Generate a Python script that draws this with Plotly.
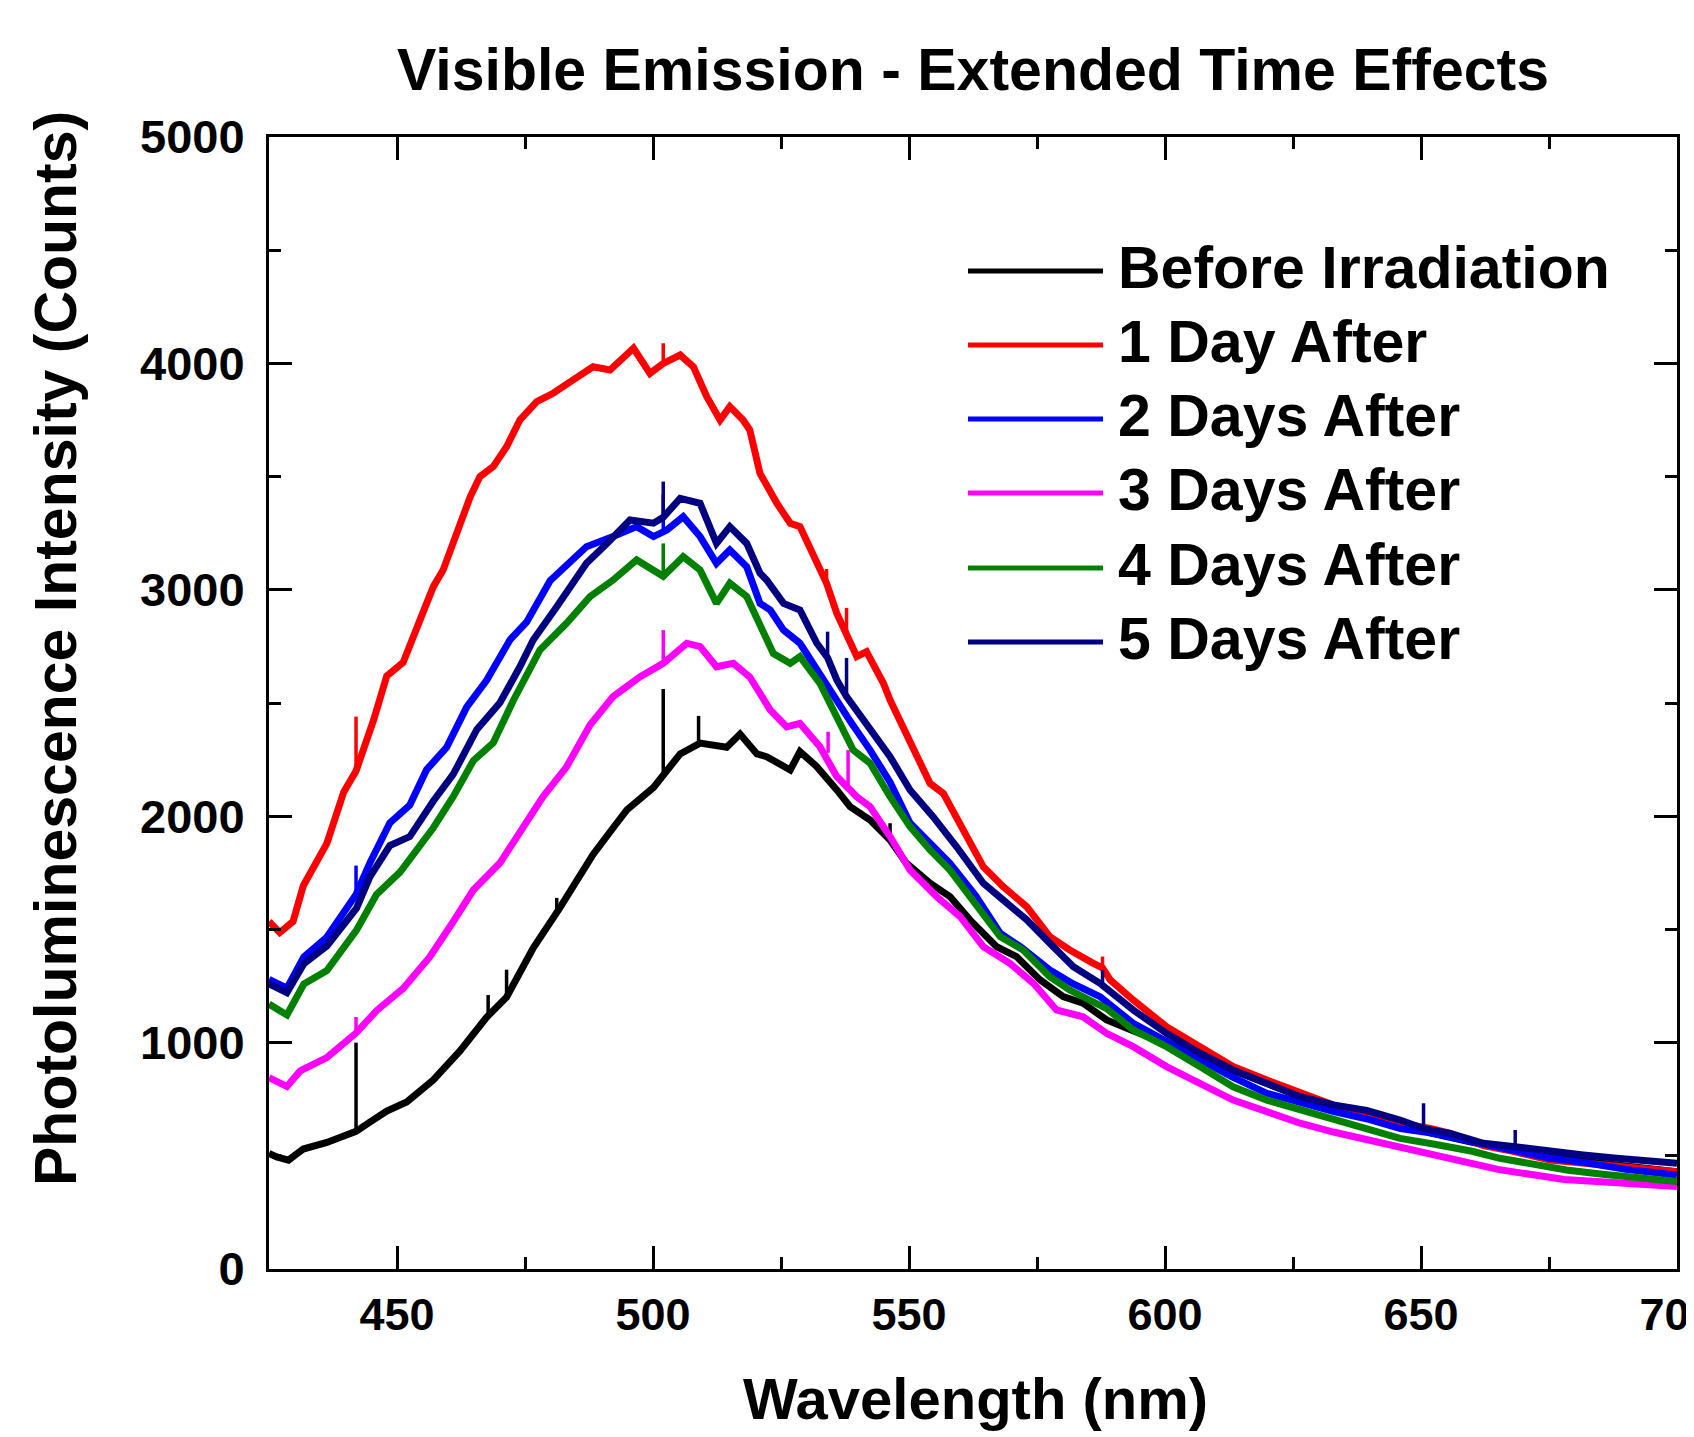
import plotly.graph_objects as go

# ---- data (wavelength nm, counts) ----
wl_before = [425.0, 426.5, 428.8, 431.7, 436.3, 440.0, 442.0, 444.7, 448.0, 451.9, 457.1, 462.3, 467.5,
             471.4, 476.6, 481.8, 488.3, 492.6, 494.9, 500.1, 502.0, 505.3, 509.2, 514.4, 517.0, 520.3,
             522.2, 526.8, 528.7, 532.0, 535.9, 538.5, 542.4, 546.3, 549.5, 554.1, 558.0, 561.9, 567.1,
             571.0, 575.6, 580.1, 584.0, 588.6, 594.0, 600.0, 606.0, 613.0, 620.0, 626.0, 633.0, 640.0,
             646.0, 652.0, 660.0, 668.0, 675.0, 682.0, 690.0, 700.0]
pl_before = [510, 495, 481, 530, 559, 590, 608, 649, 698, 738, 835, 963, 1112,
             1201, 1418, 1595, 1831, 1960, 2028, 2127, 2177, 2275, 2323, 2305, 2363, 2275,
             2263, 2204, 2285, 2219, 2116, 2042, 1983, 1895, 1792, 1704, 1645, 1542, 1424,
             1380, 1277, 1203, 1174, 1100, 1050, 1000, 950, 880, 815, 765, 715, 680,
             640, 600, 560, 525, 495, 475, 455, 430]
spikes_before = [(442.0, 608, 1000), (467.8, 1120, 1210), (471.4, 1201, 1322), (481.2, 1570, 1639),
                 (502.0, 2177, 2562), (508.9, 2320, 2443), (546.3, 1895, 1969)]

wl_day1 = [425.0, 427.1, 429.7, 431.7, 436.3, 439.6, 442.0, 445.4, 448.0, 451.2, 454.5, 457.1, 459.0,
           461.7, 464.3, 466.2, 468.8, 471.4, 474.0, 477.3, 480.5, 484.4, 488.3, 491.6, 496.2, 499.4,
           502.0, 505.3, 507.9, 510.5, 513.1, 515.0, 517.6, 518.9, 520.9, 524.2, 526.8, 528.7, 532.0,
           533.9, 535.9, 537.8, 539.8, 541.7, 545.0, 546.3, 550.2, 554.1, 556.7, 560.6, 564.5, 568.4,
           573.0, 577.5, 581.4, 586.0, 587.8, 589.3, 593.8, 600.3, 606.8, 613.3, 619.9, 626.4, 632.9,
           639.4, 645.9, 651.8, 655.7, 662.2, 668.0, 675.2, 681.7, 688.2, 694.7, 700.0]
pl_day1 = [1535, 1486, 1535, 1693, 1880, 2107, 2200, 2423, 2619, 2679, 2867, 3014, 3087,
           3249, 3411, 3500, 3544, 3632, 3750, 3831, 3868, 3927, 3985, 3971, 4067, 3956,
           4000, 4037, 3985, 3853, 3750, 3809, 3750, 3706, 3514, 3382, 3294, 3279, 3117,
           3029, 2896, 2800, 2705, 2727, 2587, 2513, 2337, 2145, 2101, 1939, 1777, 1689,
           1600, 1468, 1409, 1350, 1330, 1277, 1188, 1070, 982, 894, 835, 776, 724,
           688, 644, 621, 599, 545, 520, 481, 466, 452, 440, 430]
spikes_day1 = [(442.0, 2200, 2440), (502.0, 4000, 4089), (533.9, 3029, 3092), (537.8, 2800, 2920),
               (587.8, 1330, 1380)]

wl_day2 = [425.0, 428.5, 431.8, 436.3, 442.0, 444.7, 448.6, 452.5, 455.8, 459.7, 463.6, 467.5, 472.1,
           475.3, 479.9, 487.0, 492.2, 496.8, 500.1, 502.7, 505.9, 509.2, 512.4, 515.0, 518.3, 520.9,
           522.9, 525.5, 528.7, 532.0, 535.2, 538.5, 542.4, 546.3, 550.2, 554.1, 558.0, 563.0, 567.8,
           572.0, 577.5, 582.0, 587.3, 593.8, 600.0, 606.8, 613.0, 619.9, 626.4, 633.0, 640.0, 646.0,
           652.4, 660.0, 668.0, 675.0, 682.0, 690.0, 700.0]
pl_day2 = [1279, 1240, 1378, 1466, 1654, 1793, 1970, 2049, 2206, 2304, 2482, 2600, 2780,
           2857, 3040, 3190, 3235, 3279, 3235, 3264, 3323, 3235, 3117, 3176, 3102, 2940,
           2911, 2822, 2764, 2646, 2528, 2420, 2292, 2150, 1970, 1880, 1792, 1650, 1483,
           1420, 1321, 1260, 1203, 1085, 1010, 924, 850, 776, 735, 695, 660, 620,
           599, 560, 520, 490, 470, 440, 415]
spikes_day2 = [(442.0, 1654, 1782), (502.0, 3250, 3420)]

wl_day3 = [425.0, 428.5, 431.1, 436.3, 442.0, 446.0, 451.2, 456.4, 461.0, 464.9, 470.1, 474.0, 478.6,
           483.1, 487.7, 492.2, 497.5, 502.0, 506.6, 509.2, 512.4, 515.7, 518.9, 522.9, 526.1, 528.7,
           532.6, 535.9, 539.8, 542.4, 546.3, 550.2, 555.4, 560.0, 564.5, 569.7, 574.3, 578.8, 584.0,
           588.6, 593.8, 600.3, 606.8, 613.3, 619.9, 626.4, 632.9, 639.4, 645.9, 652.4, 665.0, 678.0,
           691.0, 700.0]
pl_day3 = [845, 806, 875, 934, 1042, 1141, 1239, 1378, 1535, 1674, 1793, 1930, 2089,
           2217, 2403, 2528, 2616, 2675, 2764, 2749, 2660, 2675, 2615, 2469, 2395, 2410,
           2307, 2175, 2086, 2042, 1910, 1762, 1645, 1556, 1424, 1350, 1262, 1144, 1114,
           1041, 982, 894, 820, 746, 695, 644, 605, 573, 540, 508, 440, 395,
           378, 364]
spikes_day3 = [(442.0, 1042, 1113), (502.0, 2675, 2822), (534.2, 2280, 2373), (538.1, 2120, 2292)]

wl_day4 = [425.0, 428.5, 431.8, 436.3, 442.1, 446.0, 450.6, 453.8, 457.1, 461.0, 464.9, 468.8, 472.7,
           477.9, 483.1, 487.7, 492.2, 496.8, 500.1, 502.0, 505.9, 509.2, 512.4, 515.0, 518.3, 520.9,
           523.5, 526.8, 528.7, 532.6, 535.9, 539.1, 542.4, 546.3, 550.2, 554.1, 558.0, 563.2, 567.8,
           572.3, 577.5, 581.4, 588.6, 593.8, 600.3, 606.8, 613.3, 619.9, 626.4, 632.9, 639.4, 645.9,
           652.4, 660.0, 665.4, 672.0, 678.4, 685.0, 691.4, 700.0]
pl_day4 = [1170, 1122, 1259, 1318, 1497, 1654, 1753, 1851, 1949, 2087, 2245, 2324, 2510,
           2734, 2852, 2970, 3043, 3132, 3087, 3060, 3146, 3087, 2940, 3029, 2970, 2852,
           2719, 2675, 2705, 2587, 2440, 2292, 2234, 2086, 1954, 1851, 1762, 1600, 1468,
           1409, 1291, 1232, 1150, 1056, 982, 894, 805, 746, 702, 658, 620, 577,
           552, 520, 489, 460, 437, 420, 408, 386]
spikes_day4 = [(502.0, 3060, 3205)]

wl_day5 = [425.0, 428.5, 431.8, 436.3, 442.1, 444.7, 448.6, 452.5, 457.1, 461.0, 465.6, 470.1, 474.0,
           476.6, 481.2, 487.0, 491.0, 495.5, 500.1, 502.0, 505.3, 509.2, 512.4, 515.0, 518.3, 520.9,
           522.2, 525.5, 528.7, 532.0, 534.1, 535.9, 537.8, 541.7, 546.3, 550.2, 554.7, 559.3, 564.5,
           568.4, 573.0, 577.5, 582.1, 587.3, 593.8, 600.3, 606.8, 613.3, 619.9, 626.4, 632.9, 639.4,
           645.9, 650.5, 655.7, 662.2, 668.4, 675.2, 681.7, 688.2, 694.7, 700.0]
pl_day5 = [1259, 1220, 1348, 1427, 1594, 1732, 1870, 1910, 2067, 2186, 2383, 2501, 2660,
           2778, 2925, 3117, 3205, 3308, 3294, 3320, 3404, 3382, 3205, 3279, 3205, 3073,
           3043, 2940, 2911, 2764, 2700, 2602, 2528, 2410, 2263, 2116, 1998, 1865, 1704,
           1630, 1542, 1439, 1335, 1262, 1144, 1041, 953, 879, 820, 761, 725, 700,
           658, 620, 599, 555, 540, 518, 504, 489, 481, 467]
spikes_day5 = [(502.0, 3320, 3478), (534.1, 2700, 2815), (537.8, 2528, 2699), (587.8, 1255, 1320),
               (650.5, 620, 732), (668.4, 540, 614)]

series_names = ["Before Irradiation", "1 Day After", "2 Days After",
                "3 Days After", "4 Days After", "5 Days After"]
series_colors = ["#000000", "#ff0000", "#0000ff", "#ff00ff", "#008000", "#000080"]
series_x = [wl_before, wl_day1, wl_day2, wl_day3, wl_day4, wl_day5]
series_y = [pl_before, pl_day1, pl_day2, pl_day3, pl_day4, pl_day5]
series_spikes = [spikes_before, spikes_day1, spikes_day2, spikes_day3, spikes_day4, spikes_day5]

x_ticks = [450, 500, 550, 600, 650, 700]
y_ticks = [0, 1000, 2000, 3000, 4000, 5000]

# ---- page geometry (pixels on the page; the html body adds an 8px margin) ----
W, H = 1694, 1437
PAGE_OFF = 8
L, R, T, B = 269, 1677, 137, 1269
FONT = "Liberation Sans, Arial, sans-serif"


def px_x(px):
    return (px - L) / (R - L)


def px_y(py):
    return (B - py) / (B - T)


fig = go.Figure()
for name, color, xs, ys, sp in zip(series_names, series_colors, series_x, series_y, series_spikes):
    fig.add_trace(go.Scatter(x=xs, y=ys, mode="lines", name=name,
                             line=dict(color=color, width=7), showlegend=False))
    # narrow spectral spikes: thin vertical strokes on top of the curve
    sx_list, sy_list = [], []
    for sx, base, peak in sp:
        sx_list += [sx, sx, None]
        sy_list += [base, peak, None]
    fig.add_trace(go.Scatter(x=sx_list, y=sy_list, mode="lines", name=name + " spikes",
                             line=dict(color=color, width=3.5), showlegend=False, connectgaps=False))

axis_common = dict(
    showline=True, linecolor="black", linewidth=3, mirror="allticks",
    ticks="inside", ticklen=23, tickwidth=3, tickcolor="black",
    showgrid=False, zeroline=False, ticklabeloverflow="allow",
)

fig.update_xaxes(range=[425, 700], tickvals=x_ticks, ticklabelstandoff=4,
                 tickfont=dict(family=FONT, size=45, color="black", weight="bold"),
                 minor=dict(ticks="inside", ticklen=12, tickwidth=3, tickcolor="black", dtick=25, tick0=425),
                 **axis_common)
fig.update_yaxes(range=[0, 5000], tickvals=y_ticks, ticklabelstandoff=12,
                 tickfont=dict(family=FONT, size=47, color="black", weight="bold"),
                 minor=dict(ticks="inside", ticklen=12, tickwidth=3, tickcolor="black", dtick=500, tick0=0),
                 **axis_common)

annotations = [
    dict(text="<b>Visible Emission - Extended Time Effects</b>", x=px_x(973), y=px_y(70),
         font=dict(family=FONT, size=59, color="black")),
    dict(text="<b>Wavelength (nm)</b>", x=px_x(975), y=px_y(1398),
         font=dict(family=FONT, size=58, color="black")),
    dict(text="<b>Photoluminescence Intensity (Counts)</b>", x=px_x(56), y=px_y(649), textangle=-90,
         font=dict(family=FONT, size=59, color="black")),
]

# hand-drawn legend: swatch line + label
legend_rows = [271, 345, 419, 493, 568, 642]
shapes = []
for name, color, ly in zip(series_names, series_colors, legend_rows):
    shapes.append(dict(type="line", xref="paper", yref="paper", x0=px_x(968), x1=px_x(1103),
                       y0=px_y(ly), y1=px_y(ly), line=dict(color=color, width=5)))
    annotations.append(dict(text="<b>" + name + "</b>", x=px_x(1116), y=px_y(ly - 3), xanchor="left",
                            font=dict(family=FONT, size=59, color="black")))

for a in annotations:
    a.update(xref="paper", yref="paper", showarrow=False)
    a.setdefault("xanchor", "center")
    a.setdefault("yanchor", "middle")

fig.update_layout(
    width=W, height=H,
    margin=dict(l=L - PAGE_OFF, r=W - (R - PAGE_OFF), t=T - PAGE_OFF, b=H - (B - PAGE_OFF),
                autoexpand=False),
    paper_bgcolor="white", plot_bgcolor="white",
    annotations=annotations, shapes=shapes,
    showlegend=False,
)

fig.write_html("out.html")
